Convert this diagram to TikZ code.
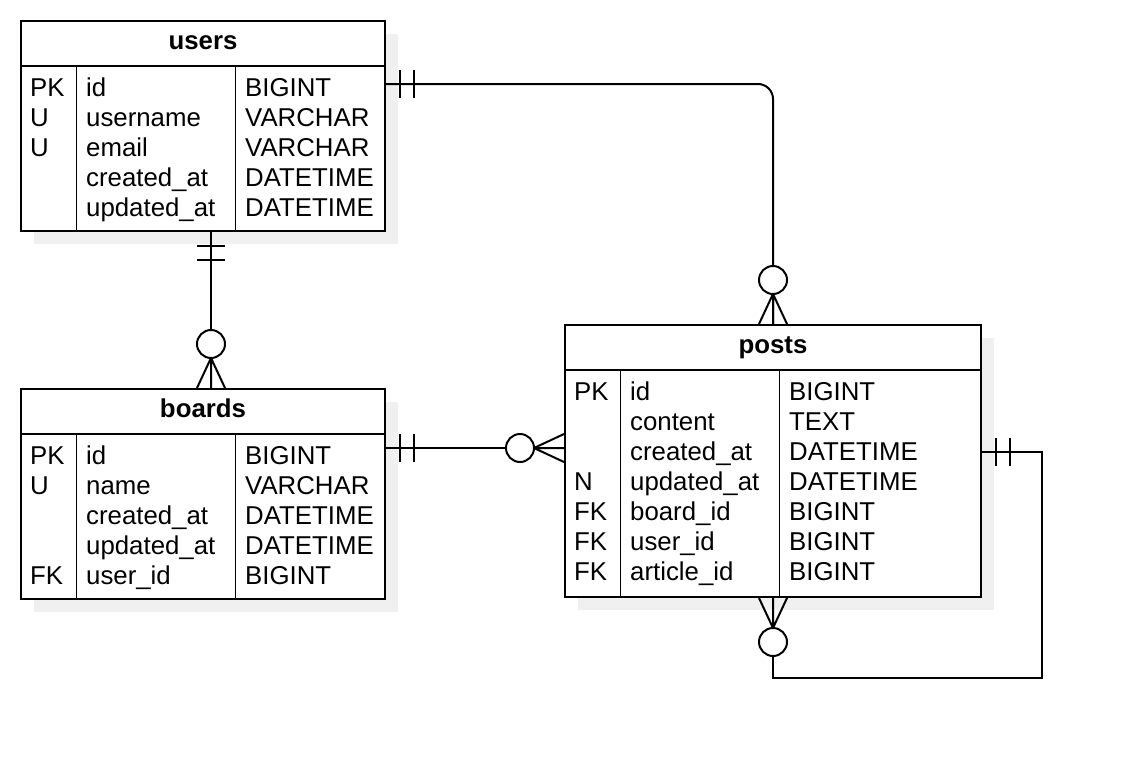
\documentclass[tikz,border=0pt]{standalone}
\usepackage{fontspec}
\setmainfont{Liberation Sans}
\usepackage{xcolor}
\definecolor{shade}{RGB}{240,240,240}
\usepackage{tikz}
\usetikzlibrary{calc}

\tikzset{
  entity/.style={draw,line width=2pt,fill=white,anchor=north west,inner sep=0pt},
  shadow/.style={fill=shade,draw=none,anchor=north west,inner sep=0pt},
  title/.style={font=\fontsize{25.8}{30}\selectfont\bfseries,anchor=base,inner sep=0pt},
  cell/.style={font=\fontsize{25.8}{30}\selectfont,anchor=base west,inner sep=0pt},
  relation/.style={line width=2pt},
  divider/.style={line width=1pt},
  one/.pic={\draw[relation] (14,-14) -- (14,14) (28,-14) -- (28,14);},
  zeromany/.pic={\draw[relation] (0,-14) -- (30,0) -- (0,14) (0,0) -- (30,0);
    \draw[relation,fill=white] (44,0) circle (14pt);}
}

\begin{document}
\begin{tikzpicture}[x=1pt,y=-1pt]
  \useasboundingbox (0,0) rectangle (1122,758);

  % shadows
  \node[shadow,minimum width=364pt,minimum height=210pt] (users-shadow) at (34,34) {};
  \node[shadow,minimum width=364pt,minimum height=210pt] (boards-shadow) at (34,402) {};
  \node[shadow,minimum width=416pt,minimum height=272pt] (posts-shadow) at (578,338) {};

  % users
  \node[entity,minimum width=364pt,minimum height=210pt] (users) at (20,20) {};
  \node[title] (users-title) at ([yshift=-29pt]users.north) {users};
  \draw[relation] ([yshift=-46pt]users.north west) -- ([yshift=-46pt]users.north east);
  \draw[divider] ([xshift=56pt,yshift=-46pt]users.north west) -- ([xshift=56pt]users.south west);
  \draw[divider] ([xshift=215pt,yshift=-46pt]users.north west) -- ([xshift=215pt]users.south west);
  \foreach \k/\n/\t [count=\i] in {PK/id/BIGINT,U/username/VARCHAR,U/email/VARCHAR,
    {}/created\_at/DATETIME,{}/updated\_at/DATETIME}{
    \node[cell] (users-key-\i) at (30,66+30*\i) {\k};
    \node[cell] (users-name-\i) at (86,66+30*\i) {\n};
    \node[cell] (users-type-\i) at (245,66+30*\i) {\t};
  }

  % boards
  \node[entity,minimum width=364pt,minimum height=210pt] (boards) at (20,388) {};
  \node[title] (boards-title) at ([yshift=-29pt]boards.north) {boards};
  \draw[relation] ([yshift=-46pt]boards.north west) -- ([yshift=-46pt]boards.north east);
  \draw[divider] ([xshift=56pt,yshift=-46pt]boards.north west) -- ([xshift=56pt]boards.south west);
  \draw[divider] ([xshift=215pt,yshift=-46pt]boards.north west) -- ([xshift=215pt]boards.south west);
  \foreach \k/\n/\t [count=\i] in {PK/id/BIGINT,U/name/VARCHAR,{}/created\_at/DATETIME,
    {}/updated\_at/DATETIME,FK/user\_id/BIGINT}{
    \node[cell] (boards-key-\i) at (30,434+30*\i) {\k};
    \node[cell] (boards-name-\i) at (86,434+30*\i) {\n};
    \node[cell] (boards-type-\i) at (245,434+30*\i) {\t};
  }

  % posts
  \node[entity,minimum width=416pt,minimum height=272pt] (posts) at (564,324) {};
  \node[title] (posts-title) at ([yshift=-29pt]posts.north) {posts};
  \draw[relation] ([yshift=-46pt]posts.north west) -- ([yshift=-46pt]posts.north east);
  \draw[divider] ([xshift=56pt,yshift=-46pt]posts.north west) -- ([xshift=56pt]posts.south west);
  \draw[divider] ([xshift=215pt,yshift=-46pt]posts.north west) -- ([xshift=215pt]posts.south west);
  \foreach \k/\n/\t [count=\i] in {PK/id/BIGINT,{}/content/TEXT,{}/created\_at/DATETIME,
    N/updated\_at/DATETIME,FK/board\_id/BIGINT,FK/user\_id/BIGINT,FK/article\_id/BIGINT}{
    \node[cell] (posts-key-\i) at (574,370+30*\i) {\k};
    \node[cell] (posts-name-\i) at (630,370+30*\i) {\n};
    \node[cell] (posts-type-\i) at (789,370+30*\i) {\t};
  }

  % relations
  \draw[relation,rounded corners=15pt] ([yshift=-64pt]users.north east) -| (posts.north);
  \draw[relation] ([xshift=8pt]users.south) -- ([xshift=8pt]boards.north);
  \draw[relation] ([yshift=-60pt]boards.north east) -- ([yshift=-124pt]posts.north west);
  \coordinate (loop) at ([xshift=60pt,yshift=-80pt]posts.south east);
  \draw[relation] ([yshift=-128pt]posts.north east) -| (loop) -| (posts.south);

  \pic at ([yshift=-64pt]users.north east) {one};
  \pic[rotate=90] at (posts.north) {zeromany};
  \pic[rotate=-90] at ([xshift=8pt]users.south) {one};
  \pic[rotate=90] at ([xshift=8pt]boards.north) {zeromany};
  \pic at ([yshift=-60pt]boards.north east) {one};
  \pic[rotate=180] at ([yshift=-124pt]posts.north west) {zeromany};
  \pic at ([yshift=-128pt]posts.north east) {one};
  \pic[rotate=-90] at (posts.south) {zeromany};
\end{tikzpicture}
\end{document}
